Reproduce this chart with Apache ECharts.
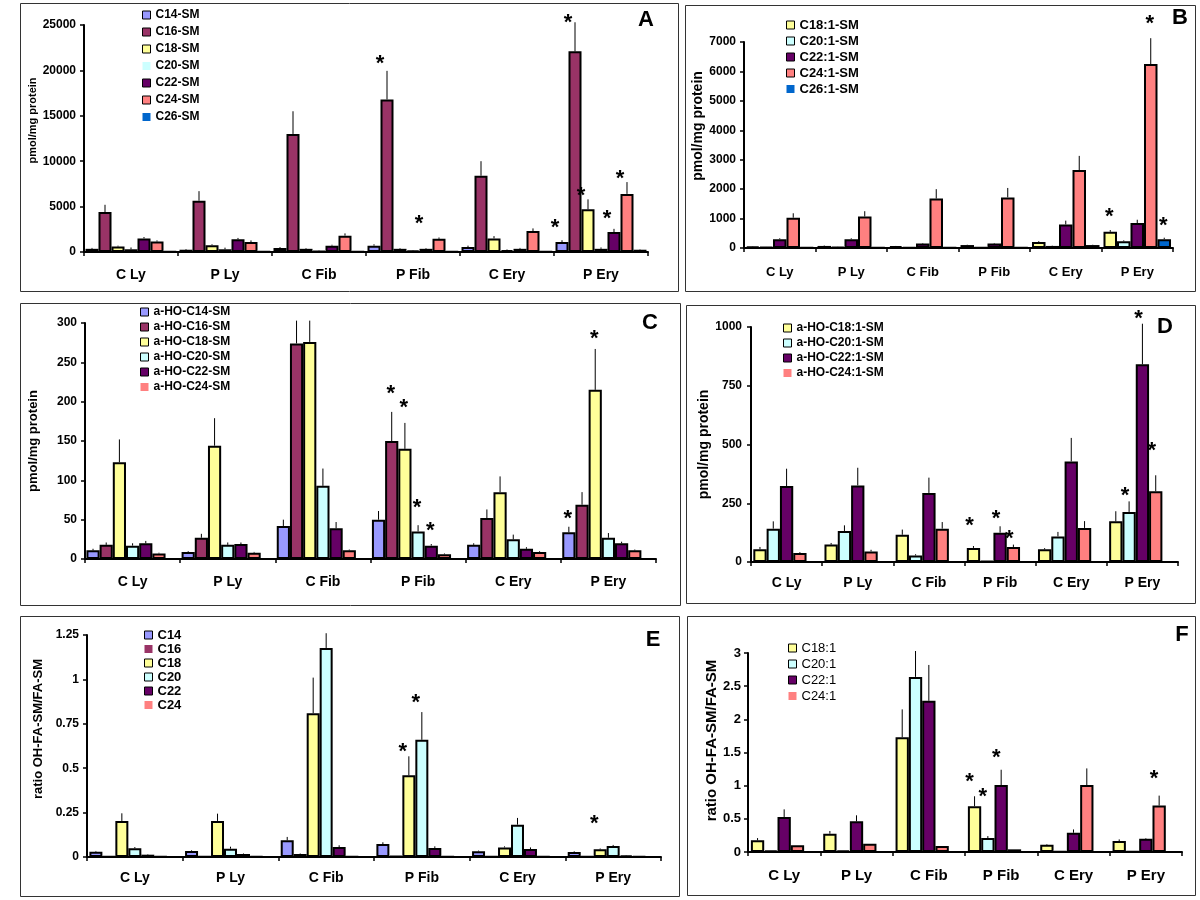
<!DOCTYPE html>
<html><head><meta charset="utf-8">
<script src="https://cdn.jsdelivr.net/npm/echarts@6/dist/echarts.min.js"></script>
<style>html,body{margin:0;padding:0;background:#fff}#chart{width:1200px;height:900px}</style>
</head><body><div id="chart"></div>
<script>
// ---------------- DATA ----------------
const categories = ['C Ly', 'P Ly', 'C Fib', 'P Fib', 'C Ery', 'P Ery'];

// Panel A: FA-SM (pmol/mg protein)
const A_series = ['C14-SM', 'C16-SM', 'C18-SM', 'C20-SM', 'C22-SM', 'C24-SM', 'C26-SM'];
const A_values = [
  [350, 250, 450, 700, 550, 1100],
  [4400, 5650, 13000, 16800, 8400, 22100],
  [600, 750, 350, 350, 1500, 4700],
  [300, 300, 100, 150, 200, 350],
  [1500, 1400, 700, 350, 350, 2200],
  [1150, 1100, 1800, 1450, 2300, 6400],
  [50, 50, 50, 50, 50, 250]
];
const A_errors = [
  [100, 80, 100, 150, 150, 200],
  [800, 1050, 2500, 3150, 1600, 3200],
  [100, 100, 80, 80, 250, 1100],
  [200, 180, 50, 50, 80, 150],
  [150, 150, 100, 80, 100, 350],
  [130, 180, 250, 150, 300, 1300],
  [0, 0, 0, 0, 0, 50]
];
const A_stars = [[3, 1, 21400], [3, 4, 3700], [5, 0, 3300], [5, 1, 25900], [5, 2, 6850], [5, 4, 4300], [5, 5, 8700]];

// Panel B: unsaturated FA-SM
const B_series = ['C18:1-SM', 'C20:1-SM', 'C22:1-SM', 'C24:1-SM', 'C26:1-SM'];
const B_values = [
  [50, 70, 60, 100, 200, 550],
  [30, 40, 20, 20, 70, 230],
  [300, 300, 150, 150, 800, 850],
  [1030, 1070, 1680, 1720, 2650, 6250],
  [10, 10, 10, 10, 100, 300]
];
const B_errors = [
  [10, 15, 10, 10, 30, 60],
  [5, 5, 5, 5, 10, 30],
  [30, 30, 20, 20, 130, 110],
  [150, 180, 320, 320, 480, 880],
  [0, 0, 0, 0, 10, 50]
];
const B_stars = [[5, 0, 1260], [5, 3, 7820], [5, 4, 950]];

// Panel C: a-HO-FA-SM
const C_series = ['a-HO-C14-SM', 'a-HO-C16-SM', 'a-HO-C18-SM', 'a-HO-C20-SM', 'a-HO-C22-SM', 'a-HO-C24-SM'];
const C_values = [
  [11, 9, 42, 50, 18, 34],
  [18, 27, 274, 150, 52, 69],
  [123, 144, 276, 140, 85, 215],
  [17, 18, 93, 35, 25, 27],
  [20, 19, 39, 17, 13, 20],
  [7, 8, 11, 6, 9, 11]
];
const C_errors = [
  [2, 1, 8, 11, 2, 7],
  [3, 5, 29, 37, 11, 16],
  [29, 35, 27, 33, 20, 52],
  [3, 3, 22, 8, 6, 6],
  [3, 2, 8, 2, 2, 2],
  [1, 1, 1, 1, 1, 1]
];
const C_stars = [[3, 1, 217], [3, 2, 200], [3, 3, 72], [3, 4, 43], [5, 0, 58], [5, 2, 288]];

// Panel D: a-HO unsaturated FA-SM
const D_series = ['a-HO-C18:1-SM', 'a-HO-C20:1-SM', 'a-HO-C22:1-SM', 'a-HO-C24:1-SM'];
const D_values = [
  [54, 74, 116, 60, 54, 173],
  [142, 132, 28, 4, 109, 213],
  [323, 326, 294, 125, 428, 841],
  [38, 45, 142, 64, 145, 301]
];
const D_errors = [
  [10, 7, 22, 8, 5, 43],
  [31, 24, 5, 0, 19, 45],
  [74, 75, 65, 27, 100, 173],
  [4, 7, 28, 10, 29, 68]
];
const D_stars = [[3, 0, 179], [3, 2, 208], [3, 3, 123], [5, 1, 306], [5, 2, 1060], [5, 3, 498]];

// Panel E: ratio OH-FA-SM/FA-SM
const E_series = ['C14', 'C16', 'C18', 'C20', 'C22', 'C24'];
const E_values = [
  [0.030, 0.034, 0.094, 0.073, 0.032, 0.028],
  [0.002, 0.002, 0.017, 0.005, 0.002, 0.002],
  [0.203, 0.203, 0.81, 0.46, 0.054, 0.043],
  [0.049, 0.047, 1.177, 0.66, 0.182, 0.062],
  [0.013, 0.017, 0.056, 0.051, 0.045, 0.009],
  [0.004, 0.003, 0.003, 0.002, 0.002, 0.002]
];
const E_errors = [
  [0.004, 0.004, 0.019, 0.010, 0.004, 0.004],
  [0, 0, 0.003, 0, 0, 0],
  [0.043, 0.041, 0.200, 0.107, 0.006, 0.005],
  [0.007, 0.011, 0.083, 0.156, 0.038, 0.006],
  [0.003, 0.003, 0.010, 0.009, 0.009, 0.002],
  [0, 0, 0, 0, 0, 0]
];
const E_stars = [[3, 2, 0.623], [3, 3, 0.899], [5, 2, 0.22]];

// Panel F: ratio for unsaturated
const F_series = ['C18:1', 'C20:1', 'C22:1', 'C24:1'];
const F_values = [
  [0.176, 0.276, 1.73, 0.69, 0.11, 0.166],
  [0.02, 0.02, 2.64, 0.21, 0.01, 0.01],
  [0.528, 0.462, 2.28, 1.01, 0.29, 0.20],
  [0.10, 0.126, 0.09, 0.04, 1.01, 0.70]
];
const F_errors = [
  [0.034, 0.041, 0.42, 0.15, 0.01, 0.024],
  [0, 0, 0.39, 0.03, 0, 0],
  [0.115, 0.091, 0.54, 0.23, 0.05, 0.01],
  [0, 0, 0, 0, 0.25, 0.15]
];
const F_stars = [[3, 0, 1.146], [3, 1, 0.92], [3, 2, 1.51], [5, 3, 1.19]];

const yTitleAbs = 'pmol/mg protein';
const yTitleRatio = 'ratio OH-FA-SM/FA-SM';

// ---------------- STYLE / LAYOUT ----------------
const FONT = '"Liberation Sans", Arial, Helvetica, sans-serif';
const PAL = {C14: '#9999FF', C16: '#993366', C18: '#FFFF99', C20: '#CCFFFF', C22: '#660066', C24: '#FF8080', C26: '#0066CC'};

const panels = [
  {letter: 'A', names: A_series, values: A_values, errors: A_errors, stars: A_stars,
   colors: [PAL.C14, PAL.C16, PAL.C18, PAL.C20, PAL.C22, PAL.C24, PAL.C26], slots: 7, gap: 0.032,
   grid: {left: 84, top: 25, width: 564, height: 227}, yMax: 25000, yInt: 5000, yLabelSize: 12, yLabelMargin: 8,
   yName: yTitleAbs, yNameSize: 11, yNameGap: 46, yNameShift: 36, xLabelSize: 14, xLabelMargin: 16,
   legend: {left: 142, top: 6.5, lh: 17, size: 12, weight: 'bold', plain: [3, 6]}, letterPos: [646, 20], starDx: -7, box: [20, 3, 678, 291]},
  {letter: 'B', names: B_series, values: B_values, errors: B_errors, stars: B_stars,
   colors: [PAL.C18, PAL.C20, PAL.C22, PAL.C24, PAL.C26], slots: 5, gap: 0.056,
   grid: {left: 744, top: 42, width: 429, height: 206}, yMax: 7000, yInt: 1000, yLabelSize: 12, yLabelMargin: 8,
   yName: yTitleAbs, yNameSize: 14, yNameGap: 39, yNameShift: 38, xLabelSize: 13, xLabelMargin: 18,
   legend: {left: 786, top: 17, lh: 16, size: 13, weight: 'bold', plain: [4]}, letterPos: [1180, 18], starDx: -1, box: [685, 5, 1195, 291]},
  {letter: 'C', names: C_series, values: C_values, errors: C_errors, stars: C_stars,
   colors: [PAL.C14, PAL.C16, PAL.C18, PAL.C20, PAL.C22, PAL.C24], slots: 7, gap: 0.03,
   grid: {left: 85, top: 323, width: 571, height: 236}, yMax: 300, yInt: 50, yLabelSize: 12, yLabelMargin: 8,
   yName: yTitleAbs, yNameSize: 13, yNameGap: 45, yNameShift: 0, xLabelSize: 14, xLabelMargin: 16,
   legend: {left: 140, top: 304.5, lh: 15, size: 12, weight: 'bold', plain: [5]}, letterPos: [650, 323], starDx: -1, box: [20, 303, 680, 605]},
  {letter: 'D', names: D_series, values: D_values, errors: D_errors, stars: D_stars,
   colors: [PAL.C18, PAL.C20, PAL.C22, PAL.C24], slots: 5, gap: 0.065,
   grid: {left: 751, top: 327, width: 427, height: 235}, yMax: 1000, yInt: 250, yLabelSize: 12, yLabelMargin: 9,
   yName: yTitleAbs, yNameSize: 14, yNameGap: 38, yNameShift: 0, xLabelSize: 14, xLabelMargin: 14,
   legend: {left: 783, top: 320.5, lh: 15, size: 12, weight: 'bold', plain: [3]}, letterPos: [1165, 327], starDx: -4, box: [686, 305, 1195, 603]},
  {letter: 'E', names: E_series, values: E_values, errors: E_errors, stars: E_stars,
   colors: [PAL.C14, PAL.C16, PAL.C18, PAL.C20, PAL.C22, PAL.C24], slots: 7, gap: 0.05,
   grid: {left: 87, top: 635, width: 574, height: 222}, yMax: 1.25, yInt: 0.25, yLabelSize: 12, yLabelMargin: 8,
   yName: yTitleRatio, yNameSize: 13, yNameGap: 42, yNameShift: 34, xLabelSize: 14, xLabelMargin: 14,
   legend: {left: 144, top: 628, lh: 14, size: 13, weight: 'bold', plain: [1, 5]}, letterPos: [653, 640], starDx: -6, box: [20, 616, 679, 896]},
  {letter: 'F', names: F_series, values: F_values, errors: F_errors, stars: F_stars,
   colors: [PAL.C18, PAL.C20, PAL.C22, PAL.C24], slots: 5, gap: 0.08,
   grid: {left: 748, top: 653, width: 434, height: 199}, yMax: 3, yInt: 0.5, yLabelSize: 13, yLabelMargin: 7,
   yName: yTitleRatio, yNameSize: 15, yNameGap: 29, yNameShift: 24, xLabelSize: 15, xLabelMargin: 16,
   legend: {left: 788, top: 640, lh: 16, size: 13, weight: 'normal', plain: [3]}, letterPos: [1182, 635], starDx: -5, box: [687, 616, 1195, 895]}
];

function barCenter(api, cat, s, slots, gap) {
  const band = api.size([1, 0])[0];
  const groupW = band * (1 - gap);
  const bw = groupW / slots;
  return api.coord([cat, 0])[0] - groupW / 2 + (s + 0.5) * bw;
}
function makeErr(slots, gap) {
  return function (params, api) {
    const cat = api.value(0), s = api.value(1), v = api.value(2), e = api.value(3);
    const cx = barCenter(api, cat, s, slots, gap);
    const y1 = api.coord([cat, v])[1];
    const y2 = api.coord([cat, v + e])[1];
    return {type: 'line', shape: {x1: cx, y1: y1, x2: cx, y2: y2}, style: {stroke: '#000', lineWidth: 1}};
  };
}
function makeStar(slots, gap, dx) {
  return function (params, api) {
    const cat = api.value(0), s = api.value(1), v = api.value(2);
    const cx = barCenter(api, cat, s, slots, gap) + dx;
    const cy = api.coord([cat, v])[1] + 6;
    return {type: 'text', x: cx, y: cy,
      style: {text: '*', font: 'bold 22px ' + FONT, fill: '#000', align: 'center', verticalAlign: 'middle',
        textAlign: 'center', textVerticalAlign: 'middle'}};
  };
}

const option = {animation: false, backgroundColor: '#fff', grid: [], xAxis: [], yAxis: [], series: [], legend: [], graphic: []};

panels.forEach(function (p, i) {
  option.grid.push(Object.assign({containLabel: false}, p.grid));
  option.xAxis.push({
    type: 'category', gridIndex: i, data: categories,
    axisLine: {lineStyle: {color: '#000', width: 2}},
    axisTick: {show: true, length: 4, lineStyle: {color: '#000', width: 1.5}},
    axisLabel: {fontFamily: FONT, fontSize: p.xLabelSize, fontWeight: 'bold', color: '#000', margin: p.xLabelMargin, interval: 0},
    splitLine: {show: false}
  });
  option.yAxis.push({
    type: 'value', gridIndex: i, min: 0, max: p.yMax, interval: p.yInt,
    splitLine: {show: false},
    axisLine: {show: true, lineStyle: {color: '#000', width: 2}},
    axisTick: {show: true, length: 4, lineStyle: {color: '#000', width: 1.5}},
    axisLabel: {fontFamily: FONT, fontSize: p.yLabelSize, fontWeight: 'bold', color: '#000', margin: p.yLabelMargin,
      formatter: function (v) { return String(+v.toFixed(4)); }},
    name: p.yName, nameLocation: 'middle', nameGap: p.yNameGap,
    nameTextStyle: {fontFamily: FONT, fontSize: p.yNameSize, fontWeight: 'bold', color: '#000', padding: [0, 0, 0, p.yNameShift]}
  });
  const gapStr = (p.gap * 100) + '%';
  p.names.forEach(function (n, s) {
    option.series.push({
      type: 'bar', name: n, xAxisIndex: i, yAxisIndex: i, data: p.values[s],
      barGap: '0%', barCategoryGap: gapStr,
      itemStyle: {color: p.colors[s], borderColor: '#000', borderWidth: 2},
      emphasis: {disabled: true}, silent: true
    });
  });
  for (let s = p.names.length; s < p.slots; s++) {
    option.series.push({
      type: 'bar', name: 'slot-' + p.letter + s, xAxisIndex: i, yAxisIndex: i,
      data: categories.map(function () { return '-'; }),
      barGap: '0%', barCategoryGap: gapStr, silent: true
    });
  }
  const errData = [];
  p.errors.forEach(function (arr, s) {
    arr.forEach(function (e, c) { if (e > 0) errData.push([c, s, p.values[s][c], e]); });
  });
  option.series.push({type: 'custom', xAxisIndex: i, yAxisIndex: i, data: errData, encode: {x: 0, y: 2},
    renderItem: makeErr(p.slots, p.gap), z: 5, silent: true});
  option.series.push({type: 'custom', xAxisIndex: i, yAxisIndex: i, data: p.stars, encode: {x: 0, y: 2},
    renderItem: makeStar(p.slots, p.gap, p.starDx), z: 6, silent: true});
  option.legend.push({
    left: p.legend.left, top: p.legend.top, orient: 'vertical', padding: 0,
    itemWidth: 8, itemHeight: 8, itemGap: 0, icon: 'rect', selectedMode: false,
    data: p.names.map(function (n, s) {
      return p.legend.plain.indexOf(s) >= 0 ? {name: n, itemStyle: {borderWidth: 0}} : {name: n};
    }),
    itemStyle: {borderColor: '#000', borderWidth: 1},
    textStyle: {fontFamily: FONT, fontSize: p.legend.size, fontWeight: p.legend.weight, color: '#000', lineHeight: p.legend.lh}
  });
  const b = p.box;
  option.graphic.push({type: 'rect', silent: true, z: 0,
    shape: {x: b[0] + 0.5, y: b[1] + 0.5, width: b[2] - b[0], height: b[3] - b[1]},
    style: {fill: 'none', stroke: '#333', lineWidth: 1}});
  option.graphic.push({type: 'text', silent: true, x: p.letterPos[0], y: p.letterPos[1],
    style: {text: p.letter, font: 'bold 22px ' + FONT, fill: '#000', align: 'center', verticalAlign: 'middle',
      textAlign: 'center', textVerticalAlign: 'middle'}});
});

const chart = echarts.init(document.getElementById('chart'), null, {renderer: 'canvas'});
chart.setOption(option);
</script>
</body></html>
